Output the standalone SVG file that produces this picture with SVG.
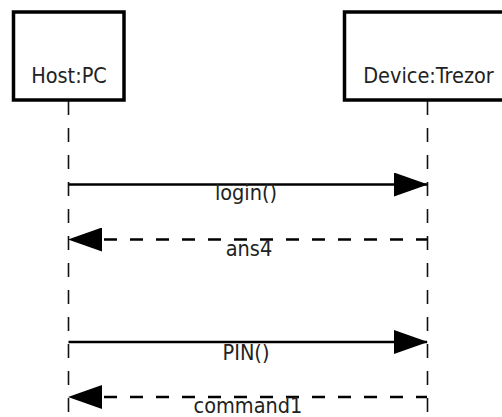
<svg xmlns="http://www.w3.org/2000/svg" width="502" height="417" viewBox="0 0 502 417">
  <style>
    .box { fill: #ffffff; stroke: #000000; stroke-width: 3.5; }
    .life { fill: none; stroke: #111111; stroke-width: 1.6; stroke-dasharray: 14 13; }
    .msg { fill: none; stroke: #000000; stroke-width: 2.5; }
    .ret { fill: none; stroke: #000000; stroke-width: 2.5; stroke-dasharray: 13 13; stroke-dashoffset: 2; }
    .lbl { font-family: "DejaVu Sans Condensed", "DejaVu Sans", "Liberation Sans", sans-serif; font-stretch: condensed; font-size: 21.5px; fill: #222222; text-anchor: middle; }
  </style>
  <defs>
    <marker id="head" markerUnits="userSpaceOnUse" markerWidth="34" markerHeight="24" viewBox="0 0 34 24" refX="33" refY="12" orient="auto">
      <path d="M0,0 L34,12 L0,24 Z" fill="#000000"/>
    </marker>
  </defs>
  <rect width="502" height="417" fill="#ffffff"/>
  <g id="lifelines">
    <path class="life" d="M68.5,101 V417"/>
    <path class="life" d="M427.5,101 V417"/>
  </g>
  <g id="host">
    <rect class="box" x="13.5" y="12" width="110.5" height="88"/>
    <text class="lbl" x="69" y="83">Host:PC</text>
  </g>
  <g id="device">
    <rect class="box" x="344.5" y="12" width="166" height="88"/>
    <text class="lbl" x="428.5" y="83">Device:Trezor</text>
  </g>
  <g id="connectors">
    <path class="msg" d="M68.5,184.5 H427" marker-end="url(#head)"/>
    <path class="ret" d="M427,239.5 H69" marker-end="url(#head)"/>
    <path class="msg" d="M68.5,342 H427" marker-end="url(#head)"/>
    <path class="ret" d="M427,397 H69" marker-end="url(#head)"/>
  </g>
  <g id="labels">
    <text class="lbl" x="246" y="200">login()</text>
    <text class="lbl" x="249" y="256">ans4</text>
    <text class="lbl" x="246" y="360">PIN()</text>
    <text class="lbl" x="248" y="413">command1</text>
  </g>
</svg>
